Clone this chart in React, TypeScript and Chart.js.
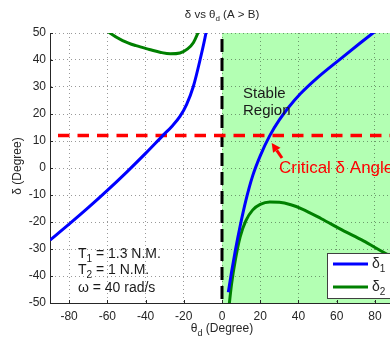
import React, { useEffect, useRef } from 'react';
import { Chart, registerables } from 'chart.js';

Chart.register(...registerables);

// ---- data ----
const xTicks = [-80, -60, -40, -20, 0, 20, 40, 60, 80];
const yTicks = [-50, -40, -30, -20, -10, 0, 10, 20, 30, 40, 50];

const delta1LeftTheta = [-90, -80, -70, -60, -50, -40, -31, -26, -22, -18.5, -15, -11.5, -8.4, -7];
const delta1LeftValues = [-26.7, -20.8, -14.7, -8.3, -1.6, 5.4, 12, 15.6, 19.1, 23.6, 30.2, 40, 50, 56];

const delta1RightTheta = [3.3, 5, 7, 9.5, 12.5, 16, 20, 25, 30, 35, 41, 50, 63, 72, 79, 85];
const delta1RightValues = [-46, -38.5, -30.5, -21.5, -12, -3, 4.5, 12, 17.8, 22.6, 27.5, 33.5, 41, 46.1, 50, 53.3];

const delta2LeftTheta = [-63, -58.6, -52, -45, -38, -32, -27, -22, -18, -15, -12.6, -11];
const delta2LeftValues = [52.8, 50, 47.2, 45.3, 43.9, 42.8, 42.3, 42.6, 44.1, 46.4, 50, 53];

const delta2RightTheta = [3.4, 5, 7, 9.5, 12.5, 16, 20, 25, 30, 36, 42, 52, 63, 74, 84, 90];
const delta2RightValues = [-53, -43, -34, -25.5, -19.5, -15.6, -13.5, -12.6, -12.7, -13.6, -15.2, -18.8, -23, -27, -31, -33.3];

const criticalDelta = 12;
const boundaryTheta = 0;
const xRange = [-90, 90];
const yRange = [-50, 50];

const titleText = ['δ vs θ', 'd', ' (A > B)'];
const xLabel = ['θ', 'd', ' (Degree)'];
const yLabel = 'δ (Degree)';
const legendLabels = [['δ', '1'], ['δ', '2']];
const paramLines = [
  ['T', '1', ' = 1.3 N.M.'],
  ['T', '2', ' = 1 N.M.'],
  ['ω = 40 rad/s', '', ''],
];
const stableLines = ['Stable', 'Region'];
const criticalText = 'Critical δ Angle';

const FONT = '"Liberation Sans", Arial, Helvetica, sans-serif';
const BLUE = '#0000ff';
const GREEN = '#008000';
const RED = '#ff0000';
const TEXT = '#262626';

const pts = (xs: number[], ys: number[]) => xs.map((x, i) => ({ x, y: ys[i] }));

function drawSub(ctx: CanvasRenderingContext2D, parts: string[], x: number, y: number, size: number, align: 'left' | 'center' = 'left') {
  const [a, sub, b] = parts;
  const subSize = Math.round(size * 0.72);
  ctx.font = `${size}px ${FONT}`;
  const wa = ctx.measureText(a).width;
  const wb = ctx.measureText(b || '').width;
  ctx.font = `${subSize}px ${FONT}`;
  const ws = sub ? ctx.measureText(sub).width : 0;
  let sx = x;
  if (align === 'center') sx = x - (wa + ws + wb) / 2;
  ctx.textAlign = 'left';
  ctx.textBaseline = 'alphabetic';
  ctx.font = `${size}px ${FONT}`;
  ctx.fillText(a, sx, y);
  if (sub) {
    ctx.font = `${subSize}px ${FONT}`;
    ctx.fillText(sub, sx + wa, y + size * 0.3);
  }
  if (b) {
    ctx.font = `${size}px ${FONT}`;
    ctx.fillText(b, sx + wa + ws, y);
  }
}

const overlayPlugin = {
  id: 'overlay',
  beforeDraw(chart: any) {
    const { ctx, chartArea, scales } = chart;
    const x0 = scales.x.getPixelForValue(boundaryTheta);
    ctx.save();
    ctx.fillStyle = '#b3ffb3';
    ctx.fillRect(x0, chartArea.top, chartArea.right - x0, chartArea.bottom - chartArea.top);
    ctx.restore();
  },
  afterDraw(chart: any) {
    const { ctx, chartArea, scales } = chart;
    const xs = scales.x;
    const ys = scales.y;
    const px = (v: number) => xs.getPixelForValue(v);
    const py = (v: number) => ys.getPixelForValue(v);
    ctx.save();

    // inward tick marks
    ctx.strokeStyle = TEXT;
    ctx.lineWidth = 1;
    ctx.beginPath();
    xTicks.forEach((v) => {
      const x = Math.round(px(v)) + 0.5;
      ctx.moveTo(x, chartArea.bottom);
      ctx.lineTo(x, chartArea.bottom - 3);
    });
    yTicks.forEach((v) => {
      const y = Math.round(py(v)) + 0.5;
      ctx.moveTo(chartArea.left, y);
      ctx.lineTo(chartArea.left + 3, y);
    });
    ctx.stroke();

    // title
    ctx.fillStyle = TEXT;
    drawSub(ctx, titleText, (chartArea.left + chartArea.right) / 2, 18, 11.5, 'center');
    // x label
    drawSub(ctx, xLabel, (chartArea.left + chartArea.right) / 2, 332, 12, 'center');
    // y label
    ctx.save();
    ctx.translate(21, (chartArea.top + chartArea.bottom) / 2 - 2);
    ctx.rotate(-Math.PI / 2);
    ctx.font = `12px ${FONT}`;
    ctx.textAlign = 'center';
    ctx.textBaseline = 'alphabetic';
    ctx.fillText(yLabel, 0, 0);
    ctx.restore();

    // Stable Region
    ctx.fillStyle = '#1a1a1a';
    ctx.font = `15px ${FONT}`;
    ctx.textAlign = 'left';
    ctx.fillText(stableLines[0], px(11), py(26));
    ctx.fillText(stableLines[1], px(11), py(19.6));

    // parameters text
    const paramY = [-33.3, -39.3, -45.9];
    paramLines.forEach((p, i) => drawSub(ctx, p, px(-75.4), py(paramY[i]), 14));

    // critical text
    ctx.fillStyle = RED;
    ctx.font = `17px ${FONT}`;
    ctx.textAlign = 'left';
    ctx.fillText(criticalText, px(29.8), py(-1.9));

    // arrow
    const tx = px(26), ty = py(9.3);
    const sx = px(31.4), sy = py(3.7);
    const ang = Math.atan2(ty - sy, tx - sx);
    const hl = 9, hw = 4.5;
    const bx = tx - hl * Math.cos(ang), by = ty - hl * Math.sin(ang);
    ctx.strokeStyle = RED;
    ctx.lineWidth = 3;
    ctx.beginPath();
    ctx.moveTo(sx, sy);
    ctx.lineTo(bx, by);
    ctx.stroke();
    ctx.beginPath();
    ctx.moveTo(tx, ty);
    ctx.lineTo(bx + hw * Math.sin(ang), by - hw * Math.cos(ang));
    ctx.lineTo(bx - hw * Math.sin(ang), by + hw * Math.cos(ang));
    ctx.closePath();
    ctx.fillStyle = RED;
    ctx.fill();

    // legend
    const lx = chartArea.right - 67;
    const lt = chartArea.bottom - 50;
    const lb = chartArea.bottom - 5;
    ctx.fillStyle = '#ffffff';
    ctx.fillRect(lx, lt, chartArea.right - 2 - lx, lb - lt);
    ctx.strokeStyle = '#404040';
    ctx.lineWidth = 1;
    ctx.strokeRect(Math.round(lx) + 0.5, Math.round(lt) + 0.5, chartArea.right - 2 - lx, lb - lt);
    const colors = [BLUE, GREEN];
    legendLabels.forEach((lab, i) => {
      const y = lt + 11 + i * 23;
      ctx.strokeStyle = colors[i];
      ctx.lineWidth = 3;
      ctx.beginPath();
      ctx.moveTo(lx + 6, y);
      ctx.lineTo(lx + 41, y);
      ctx.stroke();
      ctx.fillStyle = TEXT;
      drawSub(ctx, [lab[0], lab[1], ''], lx + 45, y + 4, 14);
    });

    ctx.restore();
  },
};

export default function App() {
  const ref = useRef<HTMLCanvasElement>(null);
  useEffect(() => {
    if (!ref.current) return;
    const curve = (label: string, data: any[], color: string) => ({
      label,
      data,
      borderColor: color,
      borderWidth: 3,
      pointRadius: 0,
      fill: false,
      cubicInterpolationMode: 'monotone' as const,
      clip: 0,
    });
    const chart = new Chart(ref.current, {
      type: 'line',
      data: {
        datasets: [
          curve('δ1', pts(delta1LeftTheta, delta1LeftValues), BLUE),
          curve('δ1r', pts(delta1RightTheta, delta1RightValues), BLUE),
          curve('δ2', pts(delta2LeftTheta, delta2LeftValues), GREEN),
          curve('δ2r', pts(delta2RightTheta, delta2RightValues), GREEN),
          {
            label: 'critical',
            data: [{ x: xRange[0], y: criticalDelta }, { x: xRange[1], y: criticalDelta }],
            borderColor: RED,
            borderWidth: 3.5,
            borderDash: [11.5, 8],
            borderDashOffset: 11.5,
            pointRadius: 0,
            clip: 0,
          },
          {
            label: 'boundary',
            data: [{ x: boundaryTheta, y: yRange[1] }, { x: boundaryTheta, y: yRange[0] }],
            borderColor: '#000000',
            borderWidth: 3,
            borderDash: [13, 6],
            borderDashOffset: 13,
            pointRadius: 0,
            clip: 0,
          },
        ] as any,
      },
      options: {
        animation: false,
        responsive: false,
        devicePixelRatio: 1,
        layout: { padding: { left: 0, right: 6, top: 33, bottom: 0 } },
        plugins: {
          legend: { display: false },
          title: { display: false },
          tooltip: { enabled: false },
        },
        scales: {
          x: {
            type: 'linear',
            min: xRange[0],
            max: xRange[1],
            afterBuildTicks: (s: any) => {
              s.ticks = xTicks.map((v) => ({ value: v }));
            },
            afterFit: (s: any) => {
              s.height = 39;
            },
            grid: { color: 'rgba(0,0,0,0.4)', lineWidth: 1, drawTicks: false },
            border: { display: true, color: TEXT, width: 1, dash: [1, 3] },
            ticks: {
              padding: 6,
              color: TEXT,
              font: { family: FONT, size: 12 },
              maxRotation: 0,
              autoSkip: false,
            },
          },
          y: {
            type: 'linear',
            min: yRange[0],
            max: yRange[1],
            afterBuildTicks: (s: any) => {
              s.ticks = yTicks.map((v) => ({ value: v }));
            },
            afterFit: (s: any) => {
              s.width = 50;
            },
            grid: { color: 'rgba(0,0,0,0.4)', lineWidth: 1, drawTicks: false },
            border: { display: true, color: TEXT, width: 1, dash: [1, 3] },
            ticks: {
              padding: 4,
              color: TEXT,
              font: { family: FONT, size: 12 },
              autoSkip: false,
            },
          },
        },
      } as any,
      plugins: [overlayPlugin],
    });
    return () => chart.destroy();
  }, []);

  return (
    <div style={{ position: 'fixed', left: 0, top: 0, width: 390, height: 342, overflow: 'hidden', background: '#fff' }}>
      <canvas ref={ref} width={400} height={342} style={{ display: 'block' }} />
    </div>
  );
}
